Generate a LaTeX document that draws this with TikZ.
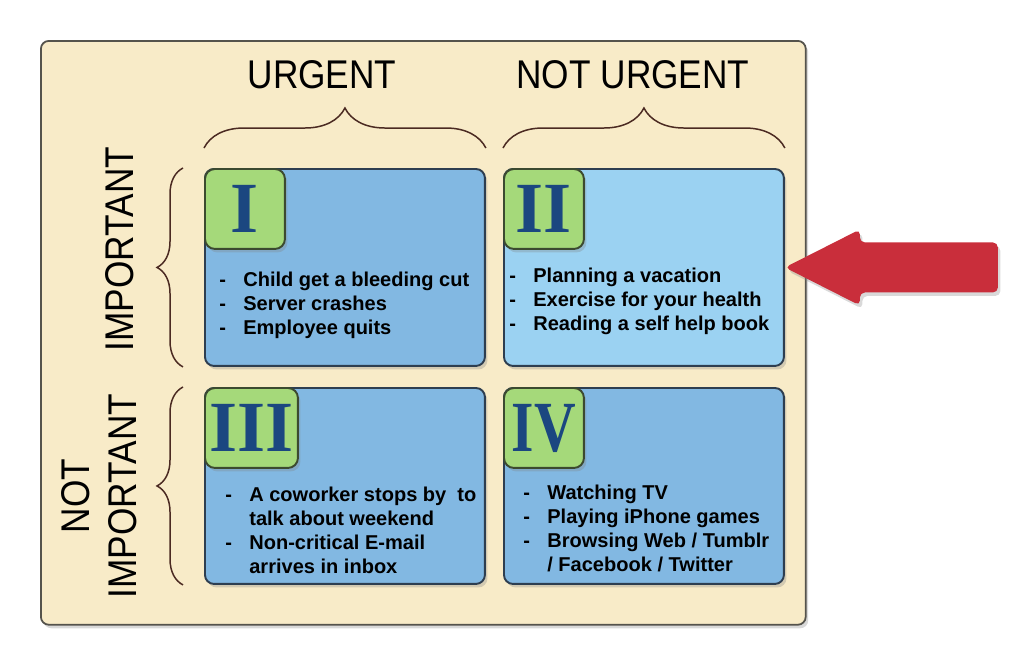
\documentclass[tikz,border=0pt]{standalone}
\usepackage{fontspec}
\setmainfont{Liberation Sans}
\newfontfamily\headfont[FakeStretch=0.88]{Liberation Sans}
\newfontfamily\numfont{Liberation Serif}
\usetikzlibrary{shadows,decorations.pathreplacing}

\definecolor{paper}{HTML}{F8EBC8}
\definecolor{paperline}{HTML}{55534C}
\definecolor{quadblue}{HTML}{82B8E2}
\definecolor{quadlight}{HTML}{9BD2F2}
\definecolor{quadline}{HTML}{2E3E50}
\definecolor{numgreen}{HTML}{A5D97A}
\definecolor{numline}{HTML}{3C4A30}
\definecolor{numblue}{HTML}{1B4780}
\definecolor{bracebrown}{HTML}{4B2A22}
\definecolor{arrowred}{HTML}{C92E3B}

\newcommand{\itm}{\makebox[0.48cm][l]{-}}
\newcommand{\cnt}{\hspace*{0.48cm}}

\begin{document}
\begin{tikzpicture}[x=0.02cm, y=-0.02cm,
    shd/.style={drop shadow={shadow xshift=0.05cm, shadow yshift=-0.07cm, opacity=0.3}},
    board/.style={shd, draw=paperline, fill=paper, line width=1pt, rounded corners=0.16cm,
                  minimum width=15.3cm, minimum height=11.68cm, anchor=north west},
    quad/.style={shd, draw=quadline, line width=1.1pt, rounded corners=0.18cm,
                 minimum width=5.6cm, minimum height=3.94cm, anchor=north west, inner sep=0pt},
    numbox/.style={shd, draw=numline, fill=numgreen, line width=1.1pt, rounded corners=0.2cm,
                   minimum width=1.6cm, minimum height=1.6cm, anchor=north west, inner sep=2pt,
                   font=\numfont\bfseries\fontsize{41}{41}\selectfont, text=numblue},
    items/.style={font=\bfseries\fontsize{11.4}{13.66}\selectfont, align=left,
                  anchor=north west, inner sep=0pt},
    head/.style={font=\headfont\fontsize{22.8}{26.7}\selectfont, inner sep=0pt, align=center},
    topbrace/.style={draw=bracebrown, line width=0.85pt, decorate,
                     decoration={brace, amplitude=0.8cm}},
    sidebrace/.style={draw=bracebrown, line width=0.85pt, decorate,
                      decoration={brace, amplitude=0.52cm}}
]
\useasboundingbox (0,0) rectangle (1034,666);

\node[board] (board) at (40,40) {};

% headings
\node[head, anchor=base] (urg)  at (322,88) {URGENT};
\node[head, anchor=base] (nurg) at (633,88) {NOT URGENT};
\node[head, rotate=90, anchor=south] (imp)  at (134,249) {IMPORTANT};
\node[head, rotate=90, anchor=south] (nimp) at (137,496) {NOT\\IMPORTANT};

% quadrants
\node[quad, fill=quadblue]  (q1) at (204,168) {};
\node[quad, fill=quadlight] (q2) at (503,168) {};
\node[quad, fill=quadblue, minimum height=3.92cm] (q3) at (204,387) {};
\node[quad, fill=quadblue, minimum height=3.92cm] (q4) at (503,387) {};

\node[numbox] (n1) at (q1.north west) {I};
\node[numbox] (n2) at (q2.north west) {II};
\node[numbox, minimum width=1.86cm] (n3) at (q3.north west) {III};
\node[numbox] (n4) at (q4.north west) {\scalebox{0.8}[1]{IV}};

\node[items] (t1) at (219,272) {\itm Child get a bleeding cut\\ \itm Server crashes\\ \itm Employee quits};
\node[items] (t2) at (509,268) {\itm Planning a vacation\\ \itm Exercise for your health\\ \itm Reading a self help book};
\node[items] (t3) at (225,487) {\itm A coworker stops by~ to\\ \cnt talk about weekend\\ \itm Non-critical E-mail\\ \cnt arrives in inbox};
\node[items] (t4) at (523,485) {\itm Watching TV\\ \itm Playing iPhone games\\ \itm Browsing Web / Tumblr\\ \cnt / Facebook / Twitter};

% braces
\draw[topbrace] ([yshift=0.4cm]q1.north west) -- ([yshift=0.4cm]q1.north east);
\draw[topbrace] ([yshift=0.4cm]q2.north west) -- ([yshift=0.4cm]q2.north east);
\draw[sidebrace] ([xshift=-0.42cm]q1.south west) -- ([xshift=-0.42cm]q1.north west);
\draw[sidebrace] ([xshift=-0.42cm]q3.south west) -- ([xshift=-0.42cm]q3.north west);

% arrow to quadrant II
\fill[arrowred, shd, rounded corners=0.1cm] (q2.east) -- ++(75,-38) -- ++(0,13) -- ++(138,0)
    -- ++(0,50) -- ++(-138,0) -- ++(0,13) -- cycle;

\end{tikzpicture}
\end{document}
